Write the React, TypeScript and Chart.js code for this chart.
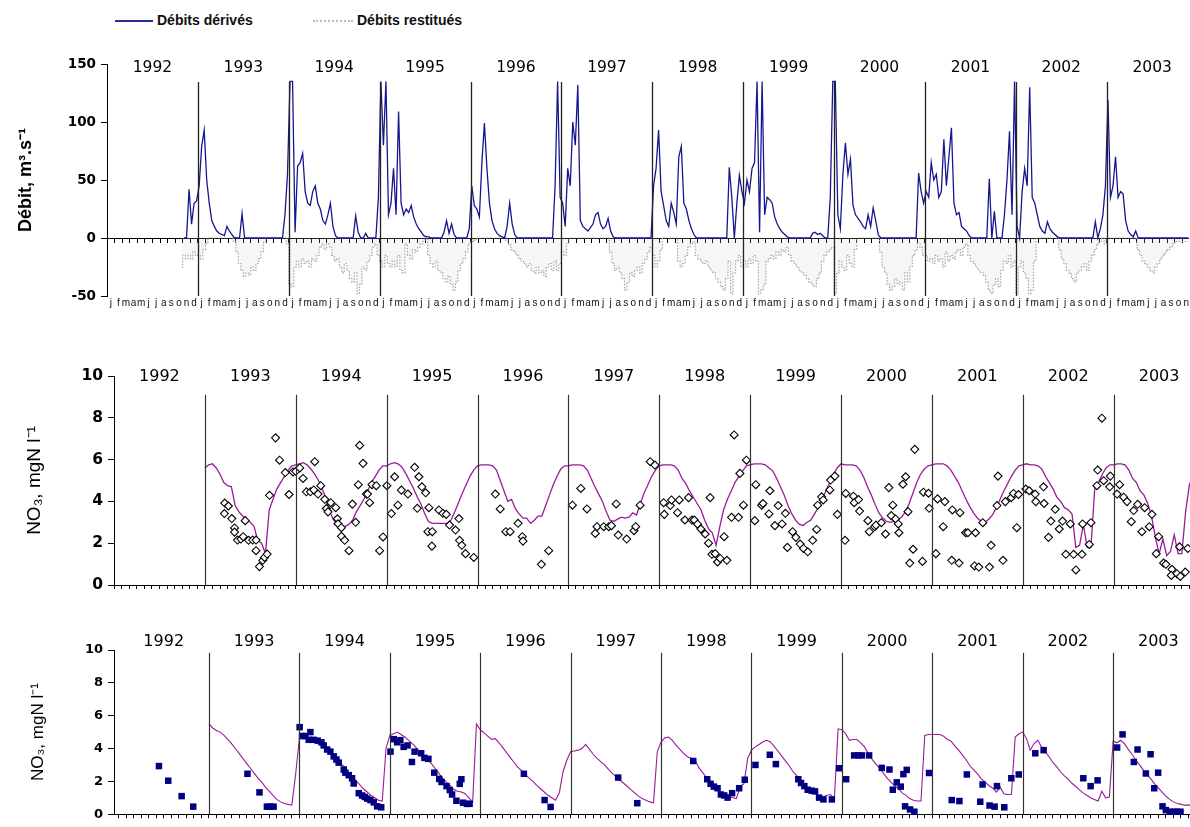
import React, { useEffect, useRef } from 'react';
import { Chart, registerables } from 'chart.js';

Chart.register(...registerables);

const FONT = '"Liberation Sans", Arial, Helvetica, sans-serif';
const WIDE_FONT = '"DejaVu Sans", Verdana, sans-serif';

const YEARS = [1992, 1993, 1994, 1995, 1996, 1997, 1998, 1999, 2000, 2001, 2002, 2003];
const YEAR_LINES = [1993, 1994, 1995, 1996, 1997, 1998, 1999, 2000, 2001, 2002, 2003];
const MONTH_LETTERS = ['j', 'f', 'm', 'a', 'm', 'j', 'j', 'a', 's', 'o', 'n', 'd'];
const DEBIT_TICKS = [-50, 0, 50, 100, 150];
const NO3_TICKS = [0, 2, 4, 6, 8, 10];

// Débits dérivés (m3/s), 36 ten-day values per year, 1992..2003
const DEBITS_DERIVES: (number | null)[][] = [
  [null, null, null, null, null, null, null, null, null, null, null, null, null, null, null, null, null, null, null, null, null, null, null, null, null, null, null, null, null, null, 0, 0, 42, 12, 30, 32],
  [45, 79, 93, 50, 30, 15, 10, 6, 4, 3, 2, 10, 6, 3, 0, 0, 0, 21, 0, 0, 0, 0, 0, 0, 0, 0, 0, 0, 0, 0, 0, 0, 0, 0, 20, 55],
  [135, 135, 5, 62, 65, 73, 40, 30, 28, 40, 45, 30, 25, 15, 12, 20, 30, 10, 2, 0, 0, 0, 0, 0, 0, 0, 19, 5, 0, 0, 4, 0, 0, 0, 0, 35],
  [135, 80, 135, 20, 30, 60, 20, 109, 30, 20, 25, 22, 28, 18, 12, 8, 5, 2, 1, 1, 0, 0, 0, 0, 0, 5, 15, 4, 12, 3, 0, 0, 0, 0, 0, 8],
  [45, 28, 25, 18, 65, 99, 60, 30, 15, 8, 4, 2, 1, 0, 10, 30, 12, 3, 0, 0, 0, 0, 0, 0, 0, 0, 0, 0, 0, 0, 0, 0, 0, 45, 135, 35],
  [30, 10, 60, 45, 100, 80, 132, 15, 10, 8, 6, 9, 12, 20, 22, 12, 8, 10, 17, 6, 1, 0, 0, 0, 0, 0, 0, 0, 0, 0, 0, 0, 0, 0, 0, 0],
  [45, 60, 93, 40, 28, 15, 10, 30, 22, 12, 70, 79, 30, 25, 15, 8, 3, 0, 0, 0, 0, 0, 0, 0, 0, 0, 0, 0, 0, 0, 61, 35, 0, 30, 54, 40],
  [30, 50, 40, 60, 65, 135, 5, 135, 20, 35, 33, 30, 18, 12, 8, 5, 3, 1, 0, 0, 0, 0, 0, 0, 0, 0, 0, 4, 5, 3, 4, 2, 0, 0, 35, 135],
  [135, 20, 8, 55, 82, 55, 68, 28, 20, 17, 14, 10, 8, 20, 10, 26, 15, 3, 0, 0, 0, 0, 0, 0, 0, 0, 0, 0, 0, 0, 0, 0, 0, 56, 40, 30],
  [40, 35, 65, 50, 55, 35, 40, 85, 45, 70, 95, 30, 20, 22, 10, 8, 6, 2, 0, 0, 0, 0, 0, 0, 0, 51, 0, 23, 0, 0, 0, 20, 50, 92, 20, 135],
  [10, 0, 40, 60, 45, 130, 35, 30, 20, 10, 6, 4, 14, 8, 5, 3, 1, 0, 0, 0, 0, 0, 0, 0, 0, 0, 0, 0, 0, 0, 0, 14, 0, 8, 20, 45],
  [119, 35, 45, 70, 35, 40, 38, 15, 6, 3, 1, 6, 0, 0, 0, 0, 0, 0, 0, 0, 0, 0, 0, 0, 0, 0, 0, 0, 0, 0, 0, 0, 0, 0, 0, 0],
];

// Débits restitués (m3/s, negative), 36 ten-day values per year, 1992..2003
const DEBITS_RESTITUES: (number | null)[][] = [
  [null, null, null, null, null, null, null, null, null, null, null, null, null, null, null, null, null, null, null, null, null, null, null, null, null, null, null, null, null, -25, -15, -18, -15, -18, -12, -15],
  [-15, -18, -10, -5, 0, 0, 0, 0, 0, 0, 0, 0, 0, 0, -3, -12, -22, -28, -33, -30, -32, -25, -28, -22, -18, -12, -3, 0, 0, 0, 0, 0, 0, 0, 0, -5],
  [-40, -42, -25, -20, -25, -18, -22, -20, -25, -18, -20, -15, -8, -5, -10, -5, -8, -15, -20, -18, -25, -30, -22, -28, -35, -38, -30, -48, -40, -25, -28, -20, -15, -8, -5, -15],
  [-20, -25, -15, -22, -25, -20, -25, -15, -28, -30, -5, -15, -18, -10, -12, -8, -5, -3, 0, -15, -22, -25, -20, -28, -30, -35, -38, -33, -40, -45, -38, -28, -22, -18, -12, -5],
  [-3, -2, -1, 0, 0, 0, 0, 0, 0, 0, 0, 0, 0, 0, -3, -6, -10, -12, -15, -18, -20, -22, -25, -22, -28, -30, -25, -30, -28, -33, -25, -22, -28, -20, -28, -22],
  [-12, -15, -5, 0, 0, 0, 0, 0, 0, 0, 0, 0, 0, 0, 0, 0, 0, 0, 0, -12, -22, -28, -25, -30, -35, -45, -38, -30, -33, -28, -25, -30, -22, -18, -12, -8],
  [-15, -25, -20, -10, 0, 0, 0, 0, 0, 0, -20, -25, -22, -15, -8, -5, -3, -15, -18, -20, -22, -20, -25, -28, -30, -35, -38, -42, -45, -35, -20, -48, -30, -20, -15, -25],
  [-20, -25, -18, -22, -15, -20, -48, -45, -40, -20, -18, -15, -18, -12, -15, -10, -12, -8, -15, -20, -22, -25, -28, -30, -32, -35, -38, -40, -42, -35, -30, -20, -15, -12, -10, -8],
  [-48, -30, -20, -25, -28, -15, -22, -25, -10, 0, 0, 0, 0, 0, 0, 0, 0, 0, -12, -25, -30, -40, -45, -42, -35, -40, -38, -45, -30, -38, -25, -15, -10, -5, -8, -15],
  [-15, -20, -18, -22, -15, -20, -18, -25, -12, -20, -15, -18, -12, -10, -15, -8, -5, -15, -20, -22, -25, -28, -30, -32, -38, -45, -48, -40, -35, -42, -28, -20, -22, -15, -25, -20],
  [-48, -25, -20, -30, -35, -48, -45, -20, 0, 0, 0, 0, 0, 0, 0, 0, 0, -10, -18, -22, -28, -30, -35, -38, -30, -28, -25, -22, -28, -20, -15, -10, -5, -3, 0, -5],
  [0, 0, 0, 0, 0, 0, 0, 0, 0, 0, 0, 0, -10, -15, -20, -22, -25, -28, -30, -25, -22, -18, -15, -12, -10, -8, -5, -3, -3, -3, -3, -3, -3, -3, -3, -3],
];

// Middle panel: simulated NO3 (mgN/l), 24 half-month values per year, 1993..2003
const NO3_SIM_A: number[][] = [
  [5.6, 5.75, 5.8, 5.6, 5.3, 4.9, 4.75, 4.7, 3.8, 3.5, 3.3, 3.1, 3.0, 2.8, 2.1, 2.0, 1.5, 3.6, 4.1, 4.6, 4.9, 5.2, 5.5, 5.7],
  [5.75, 5.8, 5.85, 5.75, 5.55, 5.3, 5.0, 4.6, 4.1, 3.5, 3.1, 2.9, 2.8, 2.8, 2.9, 3.1, 3.5, 3.8, 4.1, 4.5, 4.9, 5.2, 5.5, 5.7],
  [5.7, 5.8, 5.85, 5.8, 5.65, 5.35, 5.0, 4.65, 4.25, 3.9, 3.45, 3.05, 2.95, 2.95, 2.95, 2.95, 2.95, 3.1, 3.5, 3.95, 4.4, 4.8, 5.2, 5.5],
  [5.7, 5.75, 5.75, 5.75, 5.7, 5.5, 5.0, 4.5, 4.0, 4.1, 3.65, 3.4, 3.2, 3.2, 2.95, 3.1, 3.3, 3.3, 3.8, 4.3, 4.8, 5.2, 5.55, 5.7],
  [5.7, 5.75, 5.75, 5.75, 5.7, 5.5, 5.1, 4.7, 4.35, 4.0, 3.5, 3.1, 3.05, 3.15, 3.25, 3.2, 3.25, 3.45, 3.35, 3.9, 4.4, 4.8, 5.2, 5.5],
  [5.7, 5.75, 5.75, 5.75, 5.7, 5.5, 5.1, 4.85, 4.5, 4.2, 3.9, 3.6, 3.1, 2.7, 2.5, 1.9, 2.8, 3.6, 4.1, 4.5, 4.9, 5.2, 5.45, 5.7],
  [5.75, 5.8, 5.8, 5.8, 5.75, 5.6, 5.45, 5.1, 4.7, 4.3, 3.8, 3.4, 3.1, 2.9, 2.85, 3.0, 3.1, 3.4, 3.7, 4.1, 4.5, 4.9, 5.3, 5.6],
  [5.8, 5.75, 5.75, 5.75, 5.7, 5.5, 5.15, 4.7, 4.3, 3.85, 3.45, 3.2, 3.05, 3.0, 3.05, 3.1, 3.25, 3.5, 3.9, 4.4, 4.9, 5.3, 5.55, 5.7],
  [5.75, 5.8, 5.8, 5.8, 5.7, 5.5, 5.2, 4.9, 4.5, 4.1, 3.75, 3.45, 3.2, 3.05, 3.0, 3.15, 3.35, 3.7, 4.1, 4.5, 4.85, 5.2, 5.5, 5.7],
  [5.75, 5.8, 5.75, 5.75, 5.7, 5.55, 5.2, 4.9, 4.6, 4.2, 4.0, 3.7, 3.6, 3.4, 1.8, 1.9, 2.9, 1.8, 1.8, 4.6, 4.9, 5.3, 5.6, 5.75],
  [5.75, 5.8, 5.8, 5.75, 5.5, 5.1, 4.9, 4.5, 4.3, 3.9, 3.3, 2.3, 1.5, 2.2, 1.4, 1.6, 2.4, 1.5, 1.5, 3.5, 4.8, 5.2],
];

// Middle panel: observed NO3 [date (decimal year), mgN/l]
const NO3_OBS_A: [number, number][] = [
  [1993.218, 3.92], [1993.259, 3.78], [1993.215, 3.42], [1993.296, 3.18], [1993.326, 2.73], [1993.326, 2.53], [1993.359, 2.15], [1993.396, 2.2], [1993.422, 2.31], [1993.444, 3.08], [1993.481, 2.14], [1993.526, 2.15], [1993.563, 2.15], [1993.563, 1.64], [1993.6, 0.88], [1993.637, 1.18], [1993.656, 1.32], [1993.685, 1.48], [1993.711, 4.29], [1993.778, 7.04], [1993.822, 5.97], [1993.885, 5.38], [1993.926, 4.33], [1993.97, 5.41], [1994.0, 5.44],
  [1994.044, 5.6], [1994.08, 5.1], [1994.117, 4.46], [1994.161, 4.46], [1994.198, 4.55], [1994.209, 5.9], [1994.245, 4.35], [1994.275, 4.75], [1994.319, 4.1], [1994.337, 3.66], [1994.355, 3.5], [1994.385, 3.94], [1994.44, 3.7], [1994.458, 3.17], [1994.465, 2.93], [1994.502, 2.74], [1994.502, 2.33], [1994.538, 2.14], [1994.586, 1.64], [1994.623, 3.87], [1994.659, 3.0], [1994.688, 4.8], [1994.703, 6.68], [1994.74, 5.82], [1994.777, 4.35], [1994.79, 4.35], [1994.813, 3.94], [1994.839, 4.8], [1994.886, 4.75], [1994.923, 1.64], [1994.96, 2.3], [1995.003, 4.75],
  [1995.052, 3.42], [1995.088, 5.18], [1995.124, 3.82], [1995.162, 4.54], [1995.234, 4.35], [1995.308, 5.63], [1995.337, 3.67], [1995.355, 5.18], [1995.388, 4.7], [1995.429, 4.41], [1995.465, 3.7], [1995.454, 2.55], [1995.502, 2.55], [1995.498, 1.86], [1995.575, 3.59], [1995.619, 3.43], [1995.656, 3.38], [1995.692, 2.87], [1995.758, 2.63], [1995.795, 3.18], [1995.802, 2.14], [1995.827, 1.9], [1995.868, 1.5], [1995.959, 1.32],
  [1996.196, 4.35], [1996.25, 3.64], [1996.312, 2.55], [1996.359, 2.55], [1996.446, 2.95], [1996.493, 2.31], [1996.5, 2.1], [1996.703, 0.99], [1996.783, 1.64],
  [1997.044, 3.82], [1997.137, 4.62], [1997.204, 3.64], [1997.296, 2.47], [1997.315, 2.79], [1997.389, 2.79], [1997.444, 2.79], [1997.474, 2.84], [1997.526, 3.88], [1997.548, 2.39], [1997.641, 2.2], [1997.722, 2.6], [1997.741, 2.79], [1997.789, 3.82], [1997.9, 5.9], [1997.952, 5.74],
  [1998.048, 3.94], [1998.055, 3.38], [1998.121, 3.8], [1998.135, 4.07], [1998.201, 3.46], [1998.22, 4.07], [1998.282, 3.11], [1998.322, 4.18], [1998.359, 3.11], [1998.385, 3.11], [1998.421, 2.91], [1998.458, 2.68], [1998.505, 2.44], [1998.542, 2.0], [1998.56, 4.18], [1998.579, 1.47], [1998.615, 1.5], [1998.641, 1.1], [1998.67, 1.27], [1998.714, 2.31], [1998.744, 1.18], [1998.795, 3.24], [1998.824, 7.18], [1998.872, 3.24], [1998.887, 5.34], [1998.926, 3.82], [1998.959, 5.97],
  [1999.051, 3.08], [1999.062, 4.8], [1999.127, 3.82], [1999.141, 3.9], [1999.207, 3.4], [1999.217, 4.51], [1999.272, 2.84], [1999.308, 3.8], [1999.351, 2.92], [1999.388, 3.43], [1999.41, 1.8], [1999.467, 2.55], [1999.503, 2.28], [1999.55, 1.96], [1999.587, 1.75], [1999.634, 1.59], [1999.688, 2.14], [1999.732, 2.66], [1999.743, 3.82], [1999.786, 4.22], [1999.804, 4.07], [1999.877, 4.55], [1999.885, 5.02], [1999.932, 5.21], [1999.96, 3.38],
  [2000.044, 2.14], [2000.052, 4.38], [2000.137, 4.25], [2000.145, 3.94], [2000.193, 4.09], [2000.204, 3.54], [2000.296, 3.08], [2000.311, 2.55], [2000.37, 2.79], [2000.385, 2.87], [2000.444, 2.98], [2000.489, 2.44], [2000.526, 4.66], [2000.552, 3.32], [2000.57, 3.82], [2000.6, 3.16], [2000.63, 2.92], [2000.637, 2.5], [2000.681, 4.82], [2000.711, 5.18], [2000.737, 3.51], [2000.756, 1.05], [2000.793, 1.71], [2000.811, 6.49], [2000.896, 1.13], [2000.907, 4.44], [2000.963, 4.39], [2000.97, 3.67],
  [2001.044, 1.5], [2001.062, 4.12], [2001.124, 2.79], [2001.142, 3.99], [2001.218, 1.18], [2001.225, 3.59], [2001.298, 1.05], [2001.309, 3.46], [2001.371, 2.5], [2001.396, 2.5], [2001.469, 0.91], [2001.48, 2.5], [2001.516, 0.86], [2001.56, 2.98], [2001.633, 0.86], [2001.651, 1.9], [2001.716, 3.8], [2001.727, 5.21], [2001.782, 1.18], [2001.808, 3.99], [2001.873, 4.18], [2001.898, 4.38], [2001.934, 2.74], [2001.953, 4.33],
  [2002.033, 4.59], [2002.07, 4.51], [2002.136, 4.35], [2002.143, 3.99], [2002.228, 4.7], [2002.235, 3.9], [2002.283, 2.28], [2002.309, 3.06], [2002.357, 3.62], [2002.401, 2.68], [2002.437, 3.06], [2002.474, 1.47], [2002.523, 2.92], [2002.559, 1.47], [2002.584, 0.72], [2002.651, 1.47], [2002.658, 2.92], [2002.732, 1.94], [2002.75, 2.98], [2002.816, 4.75], [2002.824, 5.5], [2002.871, 7.98], [2002.89, 4.99], [2002.956, 4.7], [2002.963, 5.21],
  [2003.037, 4.35], [2003.066, 4.8], [2003.11, 4.2], [2003.147, 3.99], [2003.194, 3.03], [2003.22, 3.56], [2003.264, 3.86], [2003.311, 2.55], [2003.341, 3.7], [2003.392, 2.79], [2003.421, 3.38], [2003.469, 1.5], [2003.495, 2.31], [2003.549, 1.05], [2003.575, 0.99], [2003.641, 0.75], [2003.634, 0.46], [2003.696, 0.54], [2003.725, 1.83], [2003.733, 0.41], [2003.788, 0.62], [2003.816, 1.75],
];

// Bottom panel: simulated NO3 (mgN/l), 24 half-month values per year, 1993..2003
const NO3_SIM_B: number[][] = [
  [5.5, 5.25, 5.1, 5.0, 4.8, 4.55, 4.3, 4.0, 3.7, 3.4, 3.1, 2.8, 2.5, 2.2, 1.95, 1.65, 1.4, 1.15, 0.9, 0.75, 0.65, 0.6, 0.55, 2.4],
  [4.6, 4.7, 4.65, 4.6, 4.55, 4.45, 4.3, 4.1, 3.9, 3.65, 3.4, 3.1, 2.85, 2.55, 2.3, 2.05, 1.8, 1.55, 1.35, 1.15, 1.0, 0.85, 0.8, 4.0],
  [4.8, 4.9, 5.0, 4.85, 4.7, 4.5, 4.3, 4.05, 3.8, 3.55, 3.35, 3.1, 2.8, 2.5, 2.2, 1.95, 1.75, 1.5, 1.4, 1.35, 1.25, 1.0, 0.75, 5.5],
  [5.15, 4.95, 4.75, 4.55, 4.6, 4.35, 4.05, 3.75, 3.45, 3.15, 2.85, 2.65, 2.4, 2.2, 2.0, 1.75, 1.55, 1.35, 1.15, 1.0, 0.85, 1.3, 2.6, 3.3],
  [3.8, 3.85, 3.9, 4.0, 4.25, 3.95, 3.65, 3.4, 3.2, 3.0, 2.75, 2.5, 2.3, 2.1, 1.9, 1.7, 1.5, 1.3, 1.1, 0.95, 0.85, 0.75, 0.7, 3.8],
  [4.4, 4.65, 4.7, 4.5, 4.2, 3.95, 3.7, 3.5, 3.4, 3.3, 2.85, 2.55, 2.25, 2.0, 1.7, 1.5, 1.25, 1.1, 1.05, 1.0, 0.95, 1.7, 1.85, 3.4],
  [3.9, 4.1, 4.25, 4.4, 4.5, 4.4, 4.15, 3.85, 3.55, 3.25, 2.95, 2.6, 2.35, 2.0, 1.8, 1.6, 1.4, 1.25, 1.1, 1.05, 1.15, 1.2, 0.9, 5.2],
  [5.15, 4.9, 4.5, 4.55, 4.55, 4.35, 4.1, 3.7, 3.35, 3.05, 2.8, 2.5, 2.2, 1.95, 1.75, 1.55, 1.3, 1.15, 0.95, 0.85, 0.8, 0.8, 4.8, 4.85],
  [4.85, 4.85, 4.85, 4.75, 4.55, 4.45, 4.15, 3.9, 3.6, 3.3, 2.95, 2.7, 2.45, 2.15, 1.95, 1.75, 1.6, 1.35, 1.65, 1.25, 1.2, 1.2, 4.7, 4.9],
  [5.0, 4.6, 3.9, 4.3, 4.5, 4.1, 3.8, 3.5, 3.15, 2.9, 2.6, 2.35, 2.15, 1.9, 1.7, 1.5, 1.3, 1.15, 1.0, 0.9, 0.8, 1.4, 1.0, 1.05],
  [4.45, 4.35, 4.5, 4.3, 3.95, 3.65, 3.3, 3.0, 2.7, 2.4, 2.15, 1.85, 1.6, 1.35, 1.1, 0.9, 0.75, 0.65, 0.6, 0.55, 0.55, 0.55],
];

// Bottom panel: observed NO3 [date (decimal year), mgN/l]
const NO3_OBS_B: [number, number][] = [
  [1992.447, 2.93], [1992.55, 2.04], [1992.698, 1.1], [1992.826, 0.46],
  [1993.426, 2.46], [1993.559, 1.33], [1993.641, 0.46], [1993.678, 0.46], [1993.715, 0.46],
  [1994.003, 5.3], [1994.03, 4.76], [1994.066, 4.76], [1994.122, 5.0], [1994.103, 4.53], [1994.158, 4.53], [1994.203, 4.48], [1994.244, 4.38], [1994.269, 4.19], [1994.307, 3.94], [1994.343, 3.81], [1994.38, 3.52], [1994.41, 3.33], [1994.435, 3.14], [1994.491, 2.72], [1994.509, 2.53], [1994.546, 2.38], [1994.583, 2.19], [1994.601, 1.87], [1994.657, 1.28], [1994.694, 1.14], [1994.723, 1.05], [1994.75, 0.95], [1994.786, 0.86], [1994.823, 0.72], [1994.86, 0.48], [1994.905, 0.42],
  [1995.008, 3.81], [1995.044, 4.57], [1995.081, 4.38], [1995.117, 4.51], [1995.153, 4.1], [1995.197, 4.19], [1995.245, 3.18], [1995.274, 3.81], [1995.347, 3.71], [1995.383, 3.43], [1995.427, 3.37], [1995.492, 2.53], [1995.547, 2.15], [1995.573, 1.96], [1995.628, 1.71], [1995.664, 1.47], [1995.689, 1.2], [1995.737, 0.82], [1995.774, 1.85], [1995.792, 2.13], [1995.81, 0.7], [1995.853, 0.63], [1995.883, 0.63],
  [1996.483, 2.46], [1996.712, 0.86], [1996.779, 0.44],
  [1997.526, 2.23], [1997.737, 0.67],
  [1998.356, 3.24], [1998.511, 2.13], [1998.548, 1.85], [1998.584, 1.68], [1998.625, 1.58], [1998.662, 1.2], [1998.699, 1.14], [1998.736, 1.01], [1998.786, 1.28], [1998.864, 1.58], [1998.926, 2.1],
  [1999.044, 3.0], [1999.203, 3.62], [1999.27, 3.05], [1999.518, 2.13], [1999.548, 1.9], [1999.585, 1.71], [1999.622, 1.49], [1999.667, 1.43], [1999.703, 1.39], [1999.748, 1.01], [1999.796, 0.9], [1999.889, 0.9], [1999.97, 2.8],
  [2000.047, 2.13], [2000.136, 3.58], [2000.183, 3.58], [2000.221, 3.58], [2000.301, 3.58], [2000.441, 2.82], [2000.526, 2.72], [2000.563, 1.49], [2000.607, 1.94], [2000.651, 1.68], [2000.68, 2.44], [2000.717, 2.7], [2000.699, 0.48], [2000.754, 0.29], [2000.802, 0.15], [2000.964, 2.51],
  [2001.215, 0.86], [2001.3, 0.8], [2001.382, 2.42], [2001.53, 0.76], [2001.556, 1.81], [2001.633, 0.53], [2001.689, 0.46], [2001.715, 1.71], [2001.796, 0.42], [2001.874, 2.19], [2001.956, 2.42],
  [2002.139, 3.71], [2002.231, 3.9], [2002.67, 2.19], [2002.751, 1.71], [2002.828, 2.06],
  [2003.044, 4.06], [2003.104, 4.86], [2003.229, 3.18], [2003.27, 3.94], [2003.362, 2.48], [2003.414, 3.65], [2003.454, 1.58], [2003.498, 2.53], [2003.546, 0.48], [2003.583, 0.25], [2003.627, 0.15], [2003.671, 0.15], [2003.708, 0.15], [2003.745, 0.15],
];

// ---------- helpers (build library data from the arrays above) ----------
function binPoints(rows: (number | null)[][], startYears: number[], perYear: number, offset: number) {
  const pts: { x: number; y: number }[] = [];
  rows.forEach((row, yi) => {
    row.forEach((v, i) => {
      if (v !== null) pts.push({ x: startYears[yi] + (i + offset) / perYear, y: v });
    });
  });
  return pts;
}
const obsPoints = (list: [number, number][]) => list.map(([x, y]) => ({ x, y }));

function monthTicks(min: number, max: number, offset: number) {
  const t: { value: number }[] = [];
  YEARS.forEach((y) => {
    MONTH_LETTERS.forEach((_, m) => {
      const v = y + (m + offset) / 12;
      if (v >= min - 1e-9 && v <= max + 1e-9) t.push({ value: v });
    });
  });
  return t;
}
const monthLetter = (v: number) => MONTH_LETTERS[Math.min(11, Math.floor((v - Math.floor(v)) * 12 + 1e-6))];

const yearDecor = {
  id: 'yearDecor',
  afterDatasetsDraw(chart: any, _args: any, opts: any) {
    const { ctx } = chart;
    const xs = chart.scales.x;
    const ys = chart.scales.y;
    ctx.save();
    ctx.strokeStyle = opts.lineColor;
    ctx.lineWidth = opts.lineWidth;
    YEAR_LINES.forEach((yr) => {
      const px = Math.round(xs.getPixelForValue(yr)) + 0.5;
      ctx.beginPath();
      ctx.moveTo(px, ys.getPixelForValue(opts.lineTop));
      ctx.lineTo(px, ys.getPixelForValue(opts.lineBottom));
      ctx.stroke();
    });
    ctx.fillStyle = '#000';
    ctx.font = opts.font;
    ctx.textAlign = 'center';
    ctx.textBaseline = 'middle';
    YEARS.forEach((yr) => {
      ctx.fillText(String(yr), xs.getPixelForValue(yr + 0.5), ys.getPixelForValue(opts.labelAt));
    });
    ctx.restore();
  },
};

function yAxis(ticksList: number[], width: number, tickSize: number, title: string, titleFont: any, titlePad: number) {
  return {
    type: 'linear',
    min: ticksList[0],
    max: ticksList[ticksList.length - 1],
    afterBuildTicks: (s: any) => {
      s.ticks = ticksList.map((value) => ({ value }));
    },
    ticks: { font: { family: WIDE_FONT, size: tickSize, weight: 'bold' }, color: '#000', padding: 5 },
    grid: { display: true, drawOnChartArea: false, drawTicks: true, tickLength: 6, color: '#000', lineWidth: 1 },
    border: { display: true, color: '#000', width: 1 },
    title: { display: true, text: title, font: titleFont, color: '#000', padding: { top: titlePad, bottom: 0 } },
    afterFit: (s: any) => {
      s.width = width;
    },
  };
}

function tickAxis(min: number, max: number, position: any, height: number | null) {
  return {
    type: 'linear',
    min,
    max,
    position,
    afterBuildTicks: (s: any) => {
      s.ticks = monthTicks(min, max, 0);
    },
    ticks: { display: false },
    grid: { display: true, drawOnChartArea: false, drawTicks: true, tickLength: 4, color: '#000', lineWidth: 1 },
    border: { display: true, color: '#000', width: 1 },
    afterFit: (s: any) => {
      if (height !== null) s.height = height;
    },
  };
}

const BASE_OPTS = {
  animation: false,
  responsive: false,
  maintainAspectRatio: false,
  events: [],
};

export default function App() {
  const topRef = useRef<HTMLCanvasElement>(null);
  const midRef = useRef<HTMLCanvasElement>(null);
  const botRef = useRef<HTMLCanvasElement>(null);

  useEffect(() => {
    const charts: Chart[] = [];
    const SIM_YEARS = YEARS.slice(1);

    // ---------------- top: débits ----------------
    const TOP_MIN = 1992;
    const TOP_MAX = 2003.9;
    charts.push(
      new Chart(topRef.current as HTMLCanvasElement, {
        type: 'line',
        data: {
          datasets: [
            {
              label: 'Débits dérivés',
              data: binPoints(DEBITS_DERIVES, YEARS, 36, 0.5),
              borderColor: '#16168f',
              borderWidth: 1.3,
              pointRadius: 0,
              tension: 0,
              fill: false,
            },
            {
              label: 'Débits restitués',
              data: binPoints(DEBITS_RESTITUES, YEARS, 36, 0.5),
              borderColor: '#a6a6a6',
              borderWidth: 1.2,
              borderDash: [1.5, 1.5],
              pointRadius: 0,
              stepped: 'middle',
              fill: 'origin',
              backgroundColor: 'rgba(200,200,200,0.16)',
            },
          ],
        },
        options: {
          ...BASE_OPTS,
          layout: { padding: { top: 24, left: 0, right: 0, bottom: 0 }, autoPadding: false },
          plugins: {
            legend: { display: false },
            tooltip: { enabled: false },
            yearDecor: { lineTop: 134.5, lineBottom: -50, labelAt: 146.5, lineColor: '#222', lineWidth: 1.3, font: `15.5px ${WIDE_FONT}` },
          },
          scales: {
            x: {
              type: 'linear',
              min: TOP_MIN,
              max: TOP_MAX,
              position: 'bottom',
              afterBuildTicks: (s: any) => {
                s.ticks = monthTicks(TOP_MIN, TOP_MAX - 0.02, 0.5);
              },
              ticks: {
                autoSkip: false,
                maxRotation: 0,
                minRotation: 0,
                padding: 1,
                font: { family: FONT, size: 10 },
                color: '#111',
                callback: (v: any) => monthLetter(Number(v)),
              },
              grid: { display: false, drawTicks: false },
              border: { display: false },
              afterFit: (s: any) => {
                s.height = 24;
              },
            },
            x0: tickAxis(TOP_MIN, TOP_MAX, { y: 0 }, null),
            y: yAxis(DEBIT_TICKS, 107, 13.5, 'Débit, m³.s⁻¹', { family: FONT, size: 18, weight: 'bold' }, 15),
          },
        } as any,
        plugins: [yearDecor],
      } as any)
    );

    // ---------------- middle: NO3 ----------------
    const MID_MIN = 1992;
    const MID_MAX = 2003.84;
    charts.push(
      new Chart(midRef.current as HTMLCanvasElement, {
        type: 'line',
        data: {
          datasets: [
            {
              label: 'NO3 observé',
              data: obsPoints(NO3_OBS_A),
              showLine: false,
              pointStyle: 'rectRot',
              pointRadius: 4,
              pointBorderWidth: 1.1,
              pointBorderColor: '#000',
              pointBackgroundColor: '#fff',
            },
            {
              label: 'NO3 simulé',
              data: binPoints(NO3_SIM_A, SIM_YEARS, 24, 0),
              borderColor: '#9a1a9a',
              borderWidth: 1.3,
              pointRadius: 0,
              tension: 0,
              fill: false,
            },
          ],
        },
        options: {
          ...BASE_OPTS,
          layout: { padding: { top: 36, left: 0, right: 0, bottom: 0 }, autoPadding: false },
          plugins: {
            legend: { display: false },
            tooltip: { enabled: false },
            yearDecor: { lineTop: 9.1, lineBottom: 0, labelAt: 9.95, lineColor: '#333', lineWidth: 1.2, font: `16px ${WIDE_FONT}` },
          },
          scales: {
            x: tickAxis(MID_MIN, MID_MAX, 'bottom', 15),
            y: yAxis(NO3_TICKS, 114, 15.5, 'NO₃, mgN l⁻¹', { family: FONT, size: 19 }, 23),
          },
        } as any,
        plugins: [yearDecor],
      } as any)
    );

    // ---------------- bottom: NO3 ----------------
    const BOT_MIN = 1991.95;
    const BOT_MAX = 2003.85;
    charts.push(
      new Chart(botRef.current as HTMLCanvasElement, {
        type: 'line',
        data: {
          datasets: [
            {
              label: 'NO3 observé',
              data: obsPoints(NO3_OBS_B),
              showLine: false,
              pointStyle: 'rect',
              pointRadius: 4.6,
              pointBorderWidth: 0,
              pointBorderColor: '#000080',
              pointBackgroundColor: '#000080',
              clip: false,
            },
            {
              label: 'NO3 simulé',
              data: binPoints(NO3_SIM_B, SIM_YEARS, 24, 0),
              borderColor: '#9a1a9a',
              borderWidth: 1.1,
              pointRadius: 0,
              tension: 0,
              fill: false,
            },
          ],
        },
        options: {
          ...BASE_OPTS,
          layout: { padding: { top: 30, left: 0, right: 0, bottom: 0 }, autoPadding: false },
          plugins: {
            legend: { display: false },
            tooltip: { enabled: false },
            yearDecor: { lineTop: 9.83, lineBottom: 0, labelAt: 10.5, lineColor: '#333', lineWidth: 1.2, font: `16px ${WIDE_FONT}` },
          },
          scales: {
            x: tickAxis(BOT_MIN, BOT_MAX, 'bottom', 2),
            y: yAxis(NO3_TICKS, 114, 13, 'NO₃, mgN l⁻¹', { family: FONT, size: 17 }, 28),
          },
        } as any,
        plugins: [yearDecor],
      } as any)
    );

    return () => {
      charts.forEach((c) => c.destroy());
    };
  }, []);

  const legendText: React.CSSProperties = {
    position: 'absolute',
    top: 12,
    font: `bold 14px ${FONT}`,
    lineHeight: '17px',
    color: '#111',
    whiteSpace: 'nowrap',
  };

  return (
    <div style={{ position: 'absolute', left: 0, top: 0, width: 1190, height: 827, background: '#fff', overflow: 'hidden' }}>
      <div style={{ position: 'absolute', left: 115, top: 20, width: 38, height: 2, background: '#2a2a9a' }} />
      <div style={{ ...legendText, left: 157 }}>Débits dérivés</div>
      <div style={{ position: 'absolute', left: 313, top: 20, width: 40, height: 0, borderTop: '2px dotted #bdbdbd' }} />
      <div style={{ ...legendText, left: 357 }}>Débits restitués</div>
      <canvas ref={topRef} width={1190} height={280} style={{ position: 'absolute', left: 0, top: 40, width: 1190, height: 280 }} />
      <canvas ref={midRef} width={1190} height={260} style={{ position: 'absolute', left: 0, top: 340, width: 1190, height: 260 }} />
      <canvas ref={botRef} width={1190} height={207} style={{ position: 'absolute', left: 0, top: 620, width: 1190, height: 207 }} />
    </div>
  );
}
